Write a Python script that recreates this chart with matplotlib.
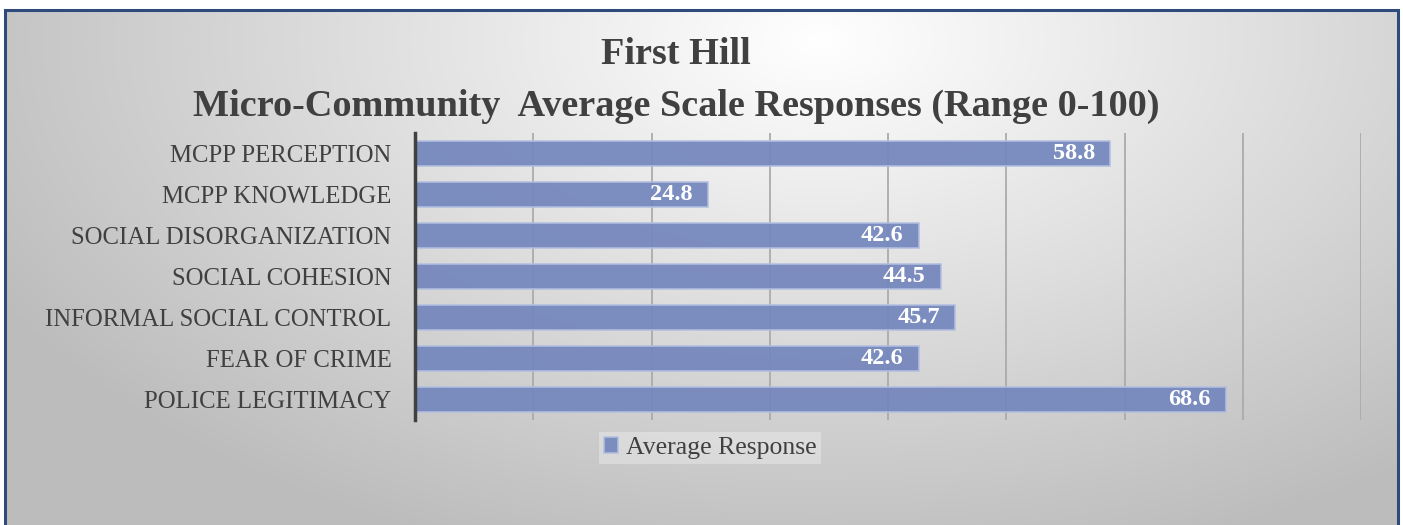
import numpy as np
import matplotlib
matplotlib.use("Agg")
import matplotlib.pyplot as plt
from matplotlib.patches import Rectangle

# data (top to bottom as shown)
categories = [
    "MCPP PERCEPTION",
    "MCPP KNOWLEDGE",
    "SOCIAL DISORGANIZATION",
    "SOCIAL COHESION",
    "INFORMAL SOCIAL CONTROL",
    "FEAR OF CRIME",
    "POLICE LEGITIMACY",
]
values = [58.8, 24.8, 42.6, 44.5, 45.7, 42.6, 68.6]
series_name = "Average Response"
title_lines = ["First Hill", "Micro-Community  Average Scale Responses (Range 0-100)"]

bar_color = "#7486bc"
font = "Liberation Serif"

fig = plt.figure(figsize=(14.03, 5.25), dpi=100)

# background: radial grey gradient
bg = fig.add_axes([0, 0, 1, 1], zorder=-10)
bg.axis("off")
h, w = 525, 1403
yy, xx = np.mgrid[0:h, 0:w]
d = np.sqrt(((xx - 820) / 900.0) ** 2 + ((yy - 40) / 520.0) ** 2)
shade = np.clip(1.0 - 0.25 * d, 0.74, 1.0)
img = np.dstack([shade, shade, shade])
bg.imshow(img, extent=[0, 1, 0, 1], aspect="auto", origin="upper")
# white margin outside the frame
bg.add_patch(Rectangle((0, 1 - 10 / h), 1, 10 / h, color="white", zorder=2))
bg.add_patch(Rectangle((0, 0), 5 / w, 1, color="white", zorder=2))
bg.add_patch(Rectangle((1 - 5 / w, 0), 5 / w, 1, color="white", zorder=2))
bg.add_patch(Rectangle((5 / w, -0.02), 1 - 10 / w, 1.02 - 10 / h,
                       fill=False, edgecolor="#2f4b7c", linewidth=2.2, zorder=3))
bg.set_xlim(0, 1)
bg.set_ylim(0, 1)

ax = fig.add_axes([415 / w, 1 - 420 / h, 946 / w, 287 / h])
ax.patch.set_alpha(0)

y = np.arange(len(categories))
bars = ax.barh(y, values, height=0.6, color=bar_color, alpha=0.93,
               edgecolor="#b3bfe0", linewidth=1.2, label=series_name, zorder=3)

for yi, v in zip(y, values):
    ax.text(v - 1.3, yi, f"{v:.1f}", ha="right", va="center", color="white",
            fontsize=17.5, fontweight="bold", family=font, zorder=4)

ax.set_xlim(0, 80)
ax.set_ylim(len(categories) - 0.5, -0.5)
ax.set_yticks(y)
ax.set_yticklabels(categories, fontsize=17.8, family=font, color="#404040")
ax.set_xticks(np.arange(10, 81, 10))
ax.tick_params(axis="x", which="both", length=0, labelbottom=False)
ax.tick_params(axis="y", length=0, pad=17)
ax.xaxis.grid(True, color="#ababab", linewidth=1.3, zorder=1)

for s in ["top", "right", "bottom"]:
    ax.spines[s].set_visible(False)
ax.spines["left"].set_color("#404040")
ax.spines["left"].set_linewidth(2.5)
ax.spines["left"].set_zorder(5)

fig.text(0.482, 1 - 55 / h, title_lines[0], ha="center", va="center",
         fontsize=27.5, fontweight="bold", family=font, color="#404040")
fig.text(0.482, 1 - 106 / h, title_lines[1], ha="center", va="center",
         fontsize=27.5, fontweight="bold", family=font, color="#404040")

leg = fig.legend(handles=[bars], labels=[series_name], loc="center",
                 bbox_to_anchor=(710 / w, 1 - 448 / h), frameon=True,
                 prop={"family": font, "size": 18.5}, handlelength=0.55,
                 handleheight=0.55, handletextpad=0.3, borderpad=0.2,
                 fancybox=False)
leg.get_frame().set_facecolor("white")
leg.get_frame().set_alpha(0.3)
leg.get_frame().set_edgecolor("none")
for t in leg.get_texts():
    t.set_color("#404040")

fig.savefig("out.png", dpi=100)
